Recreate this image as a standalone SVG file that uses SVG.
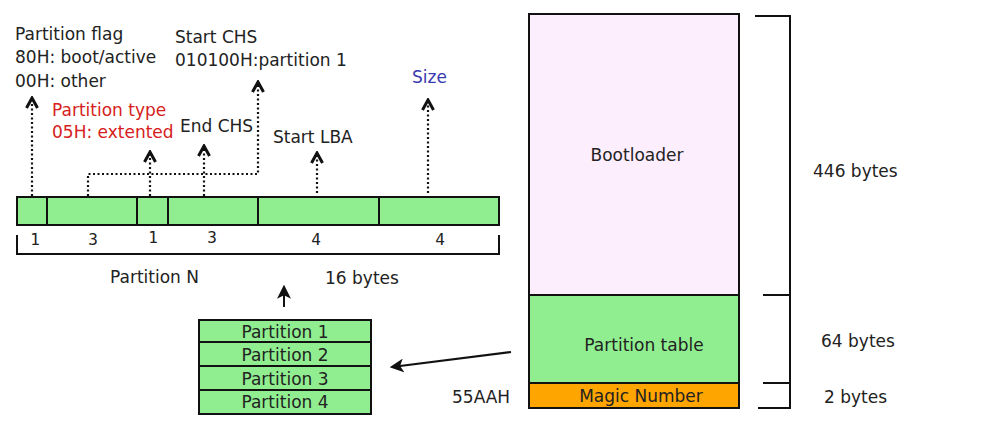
<svg xmlns="http://www.w3.org/2000/svg" width="1003" height="433" viewBox="0 0 1003 433">
<style>
text{font-family:"DejaVu Sans",sans-serif;font-size:17px;fill:#222}
.n{font-family:"DejaVu Sans Mono",monospace;font-size:16px}
.g{fill:#90ee90;stroke:#111;stroke-width:2}
.dot{fill:none;stroke:#111;stroke-width:2.2;stroke-dasharray:2,2.5}
.ln{fill:none;stroke:#111;stroke-width:2}
.c{text-anchor:middle}
</style>
<defs>
<marker id="chev" viewBox="0 0 14 14" refX="12" refY="7" markerWidth="14" markerHeight="14" markerUnits="userSpaceOnUse" orient="auto">
<path d="M2,1.5 L12,7 L2,12.5" fill="none" stroke="#111" stroke-width="3"/>
</marker>
<marker id="solid" viewBox="0 0 12 12" refX="10" refY="6" markerWidth="14" markerHeight="14" markerUnits="userSpaceOnUse" orient="auto">
<path d="M0,0 L12,6 L0,12 L3,6 Z" fill="#111"/>
</marker>
</defs>
<rect width="1003" height="433" fill="#fff"/>

<g id="mbr">
<rect x="529" y="14" width="210" height="281" fill="#fdeefd" stroke="#111" stroke-width="2"/>
<text x="637" y="161" class="c">Bootloader</text>
<rect x="529" y="295" width="210" height="88" class="g"/>
<text x="644" y="351" class="c">Partition table</text>
<rect x="529" y="383" width="210" height="25" fill="#ffa500" stroke="#111" stroke-width="2"/>
<text x="641" y="402" class="c">Magic Number</text>
</g>

<g id="brackets">
<path class="ln" d="M755,16 H790 V408 H758 M763,295 H790 M763,383 H790"/>
<text x="813" y="177">446 bytes</text>
<text x="821" y="347">64 bytes</text>
<text x="824" y="403">2 bytes</text>
<text x="452" y="403">55AAH</text>
</g>

<g id="entry">
<rect x="17" y="197" width="482" height="28" class="g"/>
<path class="ln" d="M47,197 V225 M137,197 V225 M168,197 V225 M258,197 V225 M379,197 V225"/>
<path class="ln" d="M17,235 V254 H499 V235"/>
<text x="35" y="245" class="c n">1</text>
<text x="93" y="245" class="c n">3</text>
<text x="153" y="243" class="c n">1</text>
<text x="212" y="243" class="c n">3</text>
<text x="316" y="245" class="c n">4</text>
<text x="440" y="245" class="c n">4</text>
<text x="110" y="283">Partition N</text>
<text x="325" y="284">16 bytes</text>
</g>

<g id="labels">
<text x="15" y="40">Partition flag</text>
<text x="15" y="63">80H: boot/active</text>
<text x="15" y="87">00H: other</text>
<text x="175" y="43">Start CHS</text>
<text x="175" y="66">010100H:partition 1</text>
<text x="52" y="116" style="fill:#d62020">Partition type</text>
<text x="52" y="138" style="fill:#d62020">05H: extented</text>
<text x="180" y="132">End CHS</text>
<text x="273" y="143">Start LBA</text>
<text x="412" y="83" style="fill:#3a3ab0">Size</text>
</g>

<g id="table">
<rect x="199" y="320" width="172" height="94" class="g"/>
<path class="ln" d="M199,342 H371 M199,366 H371 M199,390 H371"/>
<text x="285" y="338" class="c">Partition 1</text>
<text x="285" y="361" class="c">Partition 2</text>
<text x="285" y="385" class="c">Partition 3</text>
<text x="285" y="408" class="c">Partition 4</text>
</g>

<g id="connectors">
<path class="dot" d="M32,196 V98" marker-end="url(#chev)"/>
<path class="dot" d="M88,196 V174 H258 V82" marker-end="url(#chev)"/>
<path class="dot" d="M150,196 V152" marker-end="url(#chev)"/>
<path class="dot" d="M204,196 V146" marker-end="url(#chev)"/>
<path class="dot" d="M317,193 V153" marker-end="url(#chev)"/>
<path class="dot" d="M428,193 V100" marker-end="url(#chev)"/>
<path class="ln" d="M284,307 V287" marker-end="url(#solid)"/>
<path class="ln" d="M511,352 L392,367" marker-end="url(#solid)"/>
</g>
</svg>
